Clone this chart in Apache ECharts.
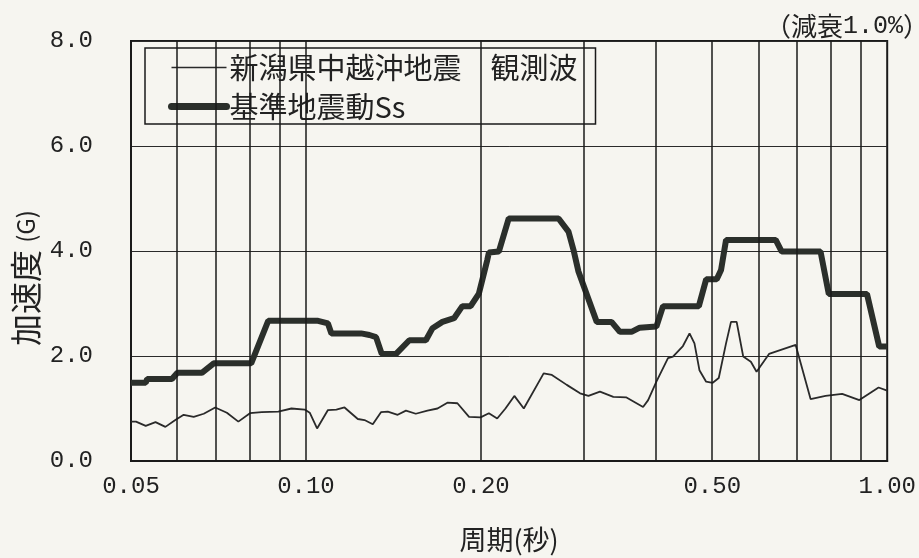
<!DOCTYPE html>
<html>
<head>
<meta charset="utf-8">
<script src="https://cdn.jsdelivr.net/npm/echarts@6/dist/echarts.min.js"></script>
<style>
html,body{margin:0;padding:0;background:#f6f5f0;}
#c{width:919px;height:558px;}
</style>
</head>
<body>
<div id="c"></div>
<script>
// 観測波 (thin line): period (s), acceleration (G)
const obsPeriod = [0.0500,0.0510,0.0530,0.0551,0.0573,0.0596,0.0616,0.0641,0.0667,0.0698,0.0731,0.0765,0.0801,0.0839,0.0896,0.0944,0.0995,0.1015,0.1045,0.1091,0.1128,0.1165,0.1196,0.1228,0.1261,0.1303,0.1346,0.1383,0.1438,0.1486,0.1545,0.1618,0.1684,0.1751,0.1822,0.1908,0.1997,0.2064,0.2133,0.2204,0.2283,0.2370,0.2564,0.2649,0.2810,0.2962,0.3062,0.3205,0.3379,0.3560,0.3802,0.3879,0.4008,0.4196,0.4280,0.4452,0.4570,0.4660,0.4753,0.4881,0.5010,0.5131,0.5281,0.5386,0.5508,0.5653,0.5827,0.5960,0.6262,0.6959,0.7382,0.7832,0.8365,0.8956,0.9664,1.0000];
const obsAcc = [0.75,0.75,0.67,0.74,0.65,0.78,0.88,0.84,0.90,1.02,0.92,0.75,0.91,0.93,0.94,1.00,0.98,0.92,0.62,0.97,0.98,1.02,0.91,0.80,0.78,0.70,0.93,0.94,0.88,0.96,0.90,0.96,1.00,1.11,1.10,0.84,0.83,0.91,0.81,1.00,1.24,1.00,1.67,1.64,1.45,1.29,1.24,1.32,1.22,1.21,1.03,1.16,1.51,1.96,1.99,2.19,2.43,2.24,1.73,1.51,1.49,1.58,2.24,2.65,2.65,1.99,1.89,1.70,2.04,2.21,1.18,1.24,1.28,1.16,1.40,1.34];

// 基準地震動Ss (thick line)
const ssPeriod = [0.0500,0.0530,0.0533,0.0588,0.0601,0.0662,0.0694,0.0805,0.0861,0.1049,0.1091,0.1106,0.1244,0.1286,0.1320,0.1350,0.1429,0.1506,0.1608,0.1651,0.1717,0.1798,0.1858,0.1920,0.1984,0.2051,0.2064,0.2147,0.2233,0.2720,0.2829,0.2886,0.2943,0.3164,0.3355,0.3468,0.3631,0.3752,0.4008,0.4115,0.4742,0.4881,0.5090,0.5178,0.5281,0.6430,0.6584,0.7679,0.7934,0.9231,0.9688,1.0000];
const ssAcc = [1.49,1.49,1.56,1.56,1.68,1.68,1.86,1.86,2.67,2.67,2.62,2.43,2.43,2.40,2.36,2.04,2.04,2.30,2.30,2.53,2.65,2.72,2.95,2.95,3.19,3.83,3.97,3.99,4.62,4.62,4.37,4.02,3.61,2.65,2.65,2.46,2.46,2.54,2.56,2.95,2.95,3.46,3.46,3.64,4.21,4.21,3.99,3.99,3.18,3.18,2.18,2.18];

const xTickLabels = [0.05, 0.10, 0.20, 0.50, 1.00];
const xGridPeriods = [0.06,0.07,0.08,0.09,0.1,0.2,0.3,0.4,0.5,0.6,0.7,0.8,0.9];
const seriesNames = ['新潟県中越沖地震\u3000観測波', '基準地震動Ss'];
const xName = '周期(秒)';

const numFont = 'Liberation Mono';
const cjkFont = 'Noto Sans CJK JP';
const ink = '#222';

const chart = echarts.init(document.getElementById('c'), null, {renderer: 'canvas'});
chart.setOption({
  backgroundColor: '#f6f5f0',
  animation: false,
  title: {
    text: '（減衰{n|1.0%}）', right: -15, top: 8,
    textStyle: {
      fontFamily: cjkFont, fontSize: 26, fontWeight: 'normal', color: ink,
      rich: {n: {fontFamily: numFont, fontSize: 25, color: ink}}
    }
  },
  grid: {left: 131, right: 29, top: 41, bottom: 97, show: true, borderColor: '#1a1a1a', borderWidth: 2, backgroundColor: 'transparent'},
  legend: {
    left: 145, top: 48, orient: 'vertical',
    data: [
      {name: seriesNames[0], lineStyle: {width: 1.6, color: '#2a2a2a'}},
      {name: seriesNames[1], lineStyle: {width: 7, color: '#2b2f2b', cap: 'round'}}
    ],
    backgroundColor: '#f6f5f0', borderColor: '#1a1a1a', borderWidth: 1.5,
    padding: [5, 18, 3, 23], itemGap: 10, itemWidth: 55, itemHeight: 28,
    itemStyle: {opacity: 0},
    textStyle: {fontFamily: cjkFont, fontSize: 29, color: ink, padding: [0,0,0,-2]}
  },
  xAxis: {
    type: 'log', logBase: 10, min: 0.05, max: 1,
    name: xName, nameLocation: 'middle', nameGap: 65,
    nameTextStyle: {fontFamily: cjkFont, fontSize: 27, color: ink},
    axisLine: {show: true, lineStyle: {color: '#1a1a1a', width: 2}},
    axisTick: {show: false},
    splitLine: {show: false},
    minorTick: {show: false},
    axisLabel: {
      customValues: xTickLabels,
      formatter: v => Number(v).toFixed(2),
      fontFamily: numFont, fontSize: 24, color: ink, margin: 14
    }
  },
  yAxis: {
    type: 'value', min: 0, max: 8, interval: 2,
    axisLine: {show: true, lineStyle: {color: '#1a1a1a', width: 2}},
    axisTick: {show: false},
    splitLine: {show: true, lineStyle: {color: '#2a2a2a', width: 1}},
    axisLabel: {formatter: v => v.toFixed(1), fontFamily: numFont, fontSize: 24, color: ink, margin: 38}
  },
  graphic: [{
    type: 'text', x: 10, y: 278, rotation: Math.PI / 2, originX: 0, originY: 0,
    style: {
      text: '加速度 {s|(G)}', fill: ink, font: '32px "Noto Sans CJK JP"',
      align: 'center', verticalAlign: 'top',
      rich: {s: {fontSize: 24, fontFamily: cjkFont, fill: ink}}
    }
  }],
  series: [{
    name: seriesNames[0], type: 'line', symbol: 'none', z: 3,
    data: obsPeriod.map((p, i) => [p, obsAcc[i]]),
    lineStyle: {color: '#2a2a2a', width: 1.8},
    itemStyle: {color: '#2a2a2a'},
    markLine: {
      silent: true, symbol: 'none', label: {show: false},
      lineStyle: {color: '#1a1a1a', width: 1.5, type: 'solid'},
      data: xGridPeriods.map(p => ({xAxis: p}))
    }
  }, {
    name: seriesNames[1], type: 'line', symbol: 'none', z: 4,
    data: ssPeriod.map((p, i) => [p, ssAcc[i]]),
    lineStyle: {color: '#2b2f2b', width: 6},
    itemStyle: {color: '#2b2f2b'}
  }]
});
</script>
</body>
</html>
